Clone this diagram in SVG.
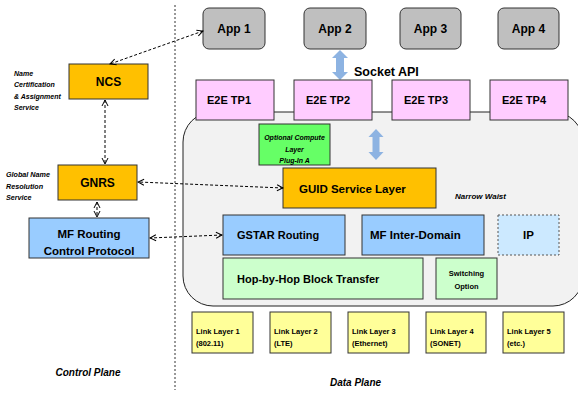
<svg xmlns="http://www.w3.org/2000/svg" width="578" height="395" viewBox="0 0 578 395">
<style>
text{font-family:"Liberation Sans",Arial,sans-serif;font-weight:bold;fill:#000}
.box{stroke:#333;stroke-width:1}
.c{text-anchor:middle}
.it{font-style:italic}
.conn{fill:none;stroke:#000;stroke-width:1;stroke-dasharray:3,2}
.barrow{fill:#8db3e2;stroke:none}
</style>
<defs>
<marker id="ah" viewBox="0 0 8 8" refX="7" refY="4" markerWidth="8" markerHeight="8" markerUnits="userSpaceOnUse" orient="auto-start-reverse">
<path d="M1,1 L7,4 L1,7" fill="none" stroke="#000" stroke-width="1"/>
</marker>
</defs>
<rect width="578" height="395" fill="#fff"/>
<line x1="175" y1="5" x2="175" y2="390" stroke="#333" stroke-width="1" stroke-dasharray="2,2"/>

<g id="container"><rect x="183" y="112" width="400" height="194" rx="30" fill="#f2f2f2" stroke="#222" stroke-width="1"/></g>

<g id="app1"><rect class="box" x="203" y="8" width="62" height="41" rx="6" fill="#bfbfbf"/><text class="c" x="234" y="33" font-size="12">App 1</text></g>
<g id="app2"><rect class="box" x="304" y="8" width="62" height="41" rx="6" fill="#bfbfbf"/><text class="c" x="335" y="33" font-size="12">App 2</text></g>
<g id="app3"><rect class="box" x="400" y="8" width="61" height="41" rx="6" fill="#bfbfbf"/><text class="c" x="430.5" y="33" font-size="12">App 3</text></g>
<g id="app4"><rect class="box" x="498" y="8" width="61" height="41" rx="6" fill="#bfbfbf"/><text class="c" x="528.5" y="33" font-size="12">App 4</text></g>

<g id="socket-api">
<path class="barrow" d="M340,50 L348,58 L344,58 L344,72 L348,72 L340,80 L332,72 L336,72 L336,58 L332,58 Z"/>
<text x="354" y="76" font-size="12.5">Socket API</text>
</g>

<g id="tp1"><rect class="box" x="196" y="80" width="78" height="40" fill="#ffccff"/><text x="207" y="104" font-size="11">E2E TP1</text></g>
<g id="tp2"><rect class="box" x="294" y="80" width="78" height="40" fill="#ffccff"/><text x="306" y="104" font-size="11">E2E TP2</text></g>
<g id="tp3"><rect class="box" x="392" y="80" width="78" height="40" fill="#ffccff"/><text x="404" y="104" font-size="11">E2E TP3</text></g>
<g id="tp4"><rect class="box" x="490" y="80" width="78" height="40" fill="#ffccff"/><text x="502" y="104" font-size="11">E2E TP4</text></g>

<g id="compute"><rect class="box" x="259" y="124" width="71" height="41" fill="#66ff66"/>
<text class="c it" x="294.5" y="140" font-size="7">Optional Compute</text>
<text class="c it" x="294.5" y="152" font-size="7">Layer</text>
<text class="c it" x="294.5" y="163" font-size="7">Plug-In A</text></g>

<g id="waist-arrow"><path class="barrow" d="M376,129 L383.5,137 L379.5,137 L379.5,152 L383.5,152 L376,160 L368.5,152 L372.5,152 L372.5,137 L368.5,137 Z"/></g>

<g id="guid"><rect class="box" x="283" y="168" width="153" height="40" fill="#ffc000"/><text x="299" y="193" font-size="11.5">GUID Service Layer</text></g>
<g id="narrow-waist"><text class="it" x="455" y="199" font-size="8">Narrow Waist</text></g>

<g id="gstar"><rect class="box" x="223" y="215" width="122" height="40" fill="#99ccff"/><text x="237" y="239" font-size="11">GSTAR Routing</text></g>
<g id="interdomain"><rect class="box" x="362" y="215" width="122" height="40" fill="#99ccff"/><text x="370" y="239" font-size="11.5">MF Inter-Domain</text></g>
<g id="ip"><rect x="498" y="215" width="61" height="40" fill="#cce9ff" stroke="#555" stroke-width="1" stroke-dasharray="2,2"/><text class="c" x="528.5" y="239" font-size="11.5">IP</text></g>
<g id="hop"><rect class="box" x="223" y="258" width="200" height="41" fill="#ccffcc"/><text x="237" y="283" font-size="11">Hop-by-Hop Block Transfer</text></g>
<g id="switching"><rect class="box" x="436" y="258" width="61" height="41" fill="#ccffcc"/>
<text class="c" x="466.5" y="276" font-size="7.5">Switching</text>
<text class="c" x="466.5" y="289" font-size="7.5">Option</text></g>

<g id="ll1"><rect class="box" x="192" y="312" width="61" height="41" fill="#ffff99"/><text x="196" y="334" font-size="7.5">Link Layer 1</text><text x="196" y="346" font-size="7.5">(802.11)</text></g>
<g id="ll2"><rect class="box" x="270" y="312" width="61" height="41" fill="#ffff99"/><text x="274" y="334" font-size="7.5">Link Layer 2</text><text x="274" y="346" font-size="7.5">(LTE)</text></g>
<g id="ll3"><rect class="box" x="348" y="312" width="61" height="41" fill="#ffff99"/><text x="352" y="334" font-size="7.5">Link Layer 3</text><text x="352" y="346" font-size="7.5">(Ethernet)</text></g>
<g id="ll4"><rect class="box" x="426" y="312" width="60" height="41" fill="#ffff99"/><text x="430" y="334" font-size="7.5">Link Layer 4</text><text x="430" y="346" font-size="7.5">(SONET)</text></g>
<g id="ll5"><rect class="box" x="503" y="312" width="61" height="41" fill="#ffff99"/><text x="507" y="334" font-size="7.5">Link Layer 5</text><text x="507" y="346" font-size="7.5">(etc.)</text></g>

<g id="ncs"><rect class="box" x="69" y="64" width="79" height="35" fill="#ffc000"/><text class="c" x="108.5" y="86" font-size="12">NCS</text></g>
<g id="ncs-label">
<text class="it" x="14" y="75.5" font-size="7">Name</text>
<text class="it" x="14" y="87" font-size="7">Certification</text>
<text class="it" x="14" y="98.5" font-size="7">&amp; Assignment</text>
<text class="it" x="14" y="110" font-size="7">Service</text></g>

<g id="gnrs"><rect class="box" x="58" y="165" width="79" height="35" fill="#ffc000"/><text class="c" x="97.5" y="187" font-size="12">GNRS</text></g>
<g id="gnrs-label">
<text class="it" x="6" y="176.5" font-size="7.2">Global Name</text>
<text class="it" x="6" y="188.5" font-size="7.2">Resolution</text>
<text class="it" x="6" y="199.5" font-size="7.2">Service</text></g>

<g id="mfrouting"><rect class="box" x="29" y="218" width="120" height="40" fill="#99ccff"/>
<text class="c" x="89" y="238" font-size="11.5">MF Routing</text>
<text class="c" x="89" y="255" font-size="11.5">Control Protocol</text></g>

<g id="planes">
<text class="c it" x="88" y="376" font-size="10">Control Plane</text>
<text class="c it" x="355.5" y="386" font-size="10">Data Plane</text></g>

<g id="connectors">
<line class="conn" x1="203" y1="31" x2="110" y2="64" marker-start="url(#ah)" marker-end="url(#ah)"/>
<line class="conn" x1="105" y1="100" x2="105" y2="164" marker-start="url(#ah)" marker-end="url(#ah)"/>
<line class="conn" x1="97" y1="202" x2="97" y2="217" marker-start="url(#ah)" marker-end="url(#ah)"/>
<line class="conn" x1="283" y1="188" x2="138" y2="182" marker-start="url(#ah)" marker-end="url(#ah)"/>
<line class="conn" x1="222" y1="235" x2="150" y2="238" marker-start="url(#ah)" marker-end="url(#ah)"/>
</g>
</svg>
